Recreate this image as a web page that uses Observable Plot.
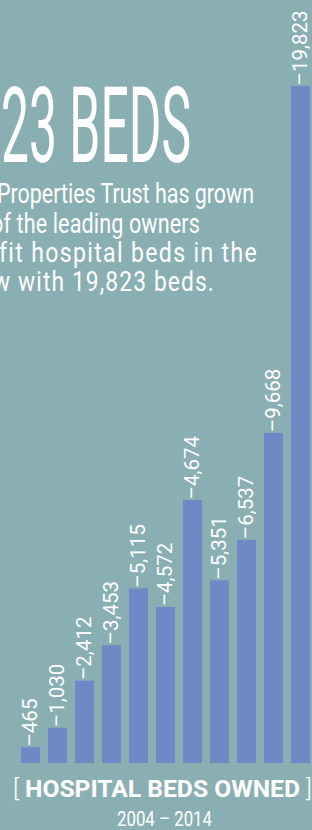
<!DOCTYPE html>
<html><head><meta charset="utf-8">
<script src="https://cdn.jsdelivr.net/npm/d3@7"></script>
<script src="https://cdn.jsdelivr.net/npm/@observablehq/plot@0.6"></script>
<style>
html,body{margin:0;padding:0;}
body{width:312px;height:830px;overflow:hidden;position:relative;background:#8aafb3;font-family:Roboto,sans-serif;color:#fff;}
#chart{position:absolute;left:0;top:0;}
.t{position:absolute;white-space:nowrap;line-height:1;transform-origin:0 0;}
.body{font-size:27px;line-height:29px;}
</style></head><body>
<div id="chart"></div>
<div class="t" data-x0="1" data-x1="191" style="top:82px;font-size:105px;line-height:90px;font-weight:400;">23 BEDS</div>
<div class="t body" id="l1" data-x0="-3" data-w="257" style="top:180px;">Properties Trust has grown</div>
<div class="t body" data-x0="-9" data-w="209" style="top:209.5px;">of the leading owners</div>
<div class="t body" data-x0="-1" data-w="259" style="top:238.5px;">fit hospital beds in the</div>
<div class="t body" data-x0="-7" data-w="222" style="top:267.5px;">w with 19,823 beds.</div>
<div class="t" data-x0="13" data-x1="312" style="top:776.8px;font-size:24px;"><span style="font-weight:300">[</span><b> HOSPITAL BEDS OWNED </b><span style="font-weight:300">]</span></div>
<div class="t" data-x0="117" data-x1="212" style="top:810.4px;font-size:19.7px;">2004 – 2014</div>
<script>
const years = ["2004","2005","2006","2007","2008","2009","2010","2011","2012","2013","2014"];
const beds = [465, 1030, 2412, 3453, 5115, 4572, 7700, 5351, 6537, 9668, 19823];
const labels = ["465","1,030","2,412","3,453","5,115","4,572","4,674","5,351","6,537","9,668","19,823"];
const barColor = "#6e8ac6";

const data = years.map((y, i) => ({year: y, beds: beds[i], label: "–" + labels[i]}));

const plot = Plot.plot({
  width: 312,
  height: 770,
  margin: 0,
  style: {background: "transparent", overflow: "visible"},
  x: {type: "band", domain: years, range: [8.33, 321.4], padding: 0.313, axis: null},
  y: {domain: [0, 19823], range: [763, 86], axis: null},
  marks: [
    Plot.barY(data, {x: "year", y: "beds", fill: barColor}),
    Plot.text(data, {x: "year", y: "beds", text: "label", rotate: -90, textAnchor: "start", lineAnchor: "middle", dy: -1, dx: -0.5, fill: "#fff", fontSize: 20.5, fontFamily: "Roboto"})
  ]
});
document.getElementById("chart").appendChild(plot);

const l1 = document.getElementById("l1");
const bodyScale = 257 / l1.getBoundingClientRect().width;
document.querySelectorAll(".t").forEach(el => {
  const x0 = +el.dataset.x0;
  el.style.left = x0 + "px";
  let s = bodyScale;
  if (el.dataset.x1 !== undefined) {
    s = (+el.dataset.x1 - x0) / el.getBoundingClientRect().width;
  } else {
    const natural = el.getBoundingClientRect().width * s;
    const n = el.textContent.length;
    const extra = (+el.dataset.w - natural) / n / s;
    el.style.letterSpacing = Math.max(0, extra * 0.6) + "px";
    const w2 = el.getBoundingClientRect().width;
    s = +el.dataset.w / w2;
  }
  el.style.transform = `scaleX(${s})`;
});
</script>
</body></html>
